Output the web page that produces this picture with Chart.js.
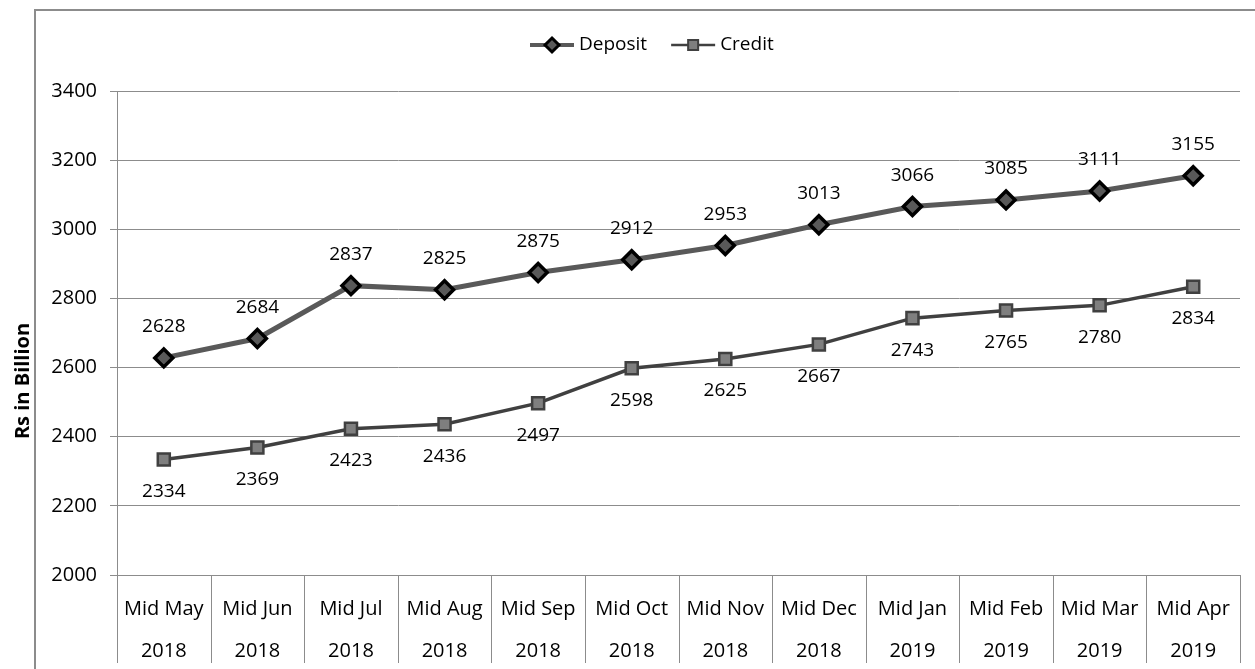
<!DOCTYPE html>
<html>
<head>
<meta charset="utf-8">
<script src="https://cdn.jsdelivr.net/npm/chart.js@4/dist/chart.umd.min.js"></script>
<style>
  html, body { margin: 0; padding: 0; background: #fff; }
  #wrap { width: 1255px; height: 669px; position: relative; }
</style>
</head>
<body>
<div id="wrap"><canvas id="chart" width="1255" height="669"></canvas></div>
<script>
// data
var months = ['Mid May', 'Mid Jun', 'Mid Jul', 'Mid Aug', 'Mid Sep', 'Mid Oct', 'Mid Nov', 'Mid Dec', 'Mid Jan', 'Mid Feb', 'Mid Mar', 'Mid Apr'];
var years = ['2018', '2018', '2018', '2018', '2018', '2018', '2018', '2018', '2019', '2019', '2019', '2019'];
var deposit = [2628, 2684, 2837, 2825, 2875, 2912, 2953, 3013, 3066, 3085, 3111, 3155];
var credit = [2334, 2369, 2423, 2436, 2497, 2598, 2625, 2667, 2743, 2765, 2780, 2834];
var yTicks = [2000, 2200, 2400, 2600, 2800, 3000, 3200, 3400];
var yTitle = 'Rs in Billion';

var FONT = '"Open Sans", "Liberation Sans", sans-serif';
var GRID = '#8c8c8c';

// two line category labels
var labels = months.map(function(m, i){ return [m, years[i]]; });

// frame around the chart (open on the right and bottom, like the source)
var framePlugin = {
  id: 'frame',
  beforeDraw: function(chart){
    var ctx = chart.ctx;
    ctx.save();
    ctx.strokeStyle = GRID;
    ctx.lineWidth = 2;
    ctx.beginPath();
    ctx.moveTo(35, 700);
    ctx.lineTo(35, 10);
    ctx.lineTo(1260, 10);
    ctx.stroke();
    ctx.restore();
  }
};

// vertical separators between the category cells under the plot
var cellPlugin = {
  id: 'cells',
  afterDraw: function(chart){
    var ctx = chart.ctx, x = chart.scales.x, area = chart.chartArea;
    var half = (x.getPixelForValue(1) - x.getPixelForValue(0)) / 2;
    ctx.save();
    ctx.strokeStyle = GRID;
    ctx.lineWidth = 1;
    for (var i = 0; i <= labels.length; i++){
      var px = Math.round(x.getPixelForValue(i) - half) + 0.5;
      if (i == labels.length) px = Math.round(x.getPixelForValue(i - 1) + half) + 0.5;
      ctx.beginPath();
      ctx.moveTo(px, area.bottom);
      ctx.lineTo(px, 663);
      ctx.stroke();
    }
    ctx.restore();
  }
};

// y axis title, sits outside the frame and a bit low like the source
var titlePlugin = {
  id: 'yTitle',
  afterDraw: function(chart){
    var ctx = chart.ctx;
    ctx.save();
    ctx.translate(23, 381);
    ctx.rotate(-Math.PI / 2);
    ctx.font = 'bold 20px ' + FONT;
    ctx.fillStyle = '#000';
    ctx.textAlign = 'center';
    ctx.textBaseline = 'middle';
    ctx.fillText(yTitle, 0, 0);
    ctx.restore();
  }
};

// value labels above / below the points
var valuePlugin = {
  id: 'values',
  afterDatasetsDraw: function(chart){
    var ctx = chart.ctx;
    ctx.save();
    ctx.font = '19px ' + FONT;
    ctx.fillStyle = '#000';
    ctx.textAlign = 'center';
    ctx.textBaseline = 'middle';
    chart.data.datasets.forEach(function(ds, di){
      var meta = chart.getDatasetMeta(di);
      meta.data.forEach(function(pt, i){
        ctx.fillText(String(ds.data[i]), pt.x, pt.y + ds.labelShift);
      });
    });
    ctx.restore();
  }
};

// excel style legend: line with marker through it
var legendPlugin = {
  id: 'xlLegend',
  afterDraw: function(chart){
    var ctx = chart.ctx;
    var y = 45, x = 530;
    ctx.save();
    ctx.font = '19px ' + FONT;
    ctx.textBaseline = 'middle';
    chart.data.datasets.forEach(function(ds){
      ctx.strokeStyle = ds.borderColor;
      ctx.lineWidth = ds.borderWidth - 1;
      ctx.beginPath();
      ctx.moveTo(x, y);
      ctx.lineTo(x + 44, y);
      ctx.stroke();
      var cx = x + 22;
      ctx.fillStyle = ds.pointBackgroundColor;
      ctx.strokeStyle = ds.pointBorderColor;
      ctx.lineWidth = ds.pointBorderWidth - 0.5;
      ctx.beginPath();
      if (ds.pointStyle == 'rectRot'){
        ctx.moveTo(cx, y - 7); ctx.lineTo(cx + 7, y); ctx.lineTo(cx, y + 7); ctx.lineTo(cx - 7, y);
      } else {
        ctx.rect(cx - 5, y - 5, 10, 10);
      }
      ctx.closePath();
      ctx.fill();
      ctx.stroke();
      ctx.fillStyle = '#000';
      ctx.fillText(ds.label, x + 49, y);
      x += 49 + ctx.measureText(ds.label).width + 24;
    });
    ctx.restore();
  }
};

var ctx = document.getElementById('chart').getContext('2d');
var chart = new Chart(ctx, {
  type: 'line',
  data: {
    labels: labels,
    datasets: [{
      label: 'Deposit',
      data: deposit,
      borderColor: '#595959',
      borderWidth: 5,
      pointStyle: 'rectRot',
      pointRadius: 9,
      pointBackgroundColor: '#595959',
      pointBorderColor: '#000',
      pointBorderWidth: 3.5,
      labelShift: -31,
      tension: 0
    }, {
      label: 'Credit',
      data: credit,
      borderColor: '#404040',
      borderWidth: 3.5,
      pointStyle: 'rect',
      pointRadius: 8.5,
      pointBackgroundColor: '#7f7f7f',
      pointBorderColor: '#404040',
      pointBorderWidth: 2.5,
      labelShift: 32,
      tension: 0
    }]
  },
  options: {
    responsive: false,
    animation: false,
    layout: { padding: { left: 5, right: 15, top: 91, bottom: 0 } },
    plugins: {
      legend: { display: false },
      tooltip: { enabled: false }
    },
    scales: {
      x: {
        offset: true,
        grid: { display: false, drawTicks: false },
        border: { display: true, color: GRID },
        ticks: {
          color: '#000',
          font: { family: FONT, size: 20, lineHeight: 2.1 },
          padding: 13,
          maxRotation: 0,
          autoSkip: false
        },
        afterFit: function(scale){ scale.height = 94; }
      },
      y: {
        min: yTicks[0],
        max: yTicks[yTicks.length - 1],
        afterBuildTicks: function(scale){
          scale.ticks = yTicks.map(function(v){ return { value: v }; });
        },
        grid: { color: GRID, lineWidth: 1, tickLength: 7, drawTicks: true },
        border: { display: true, color: GRID },
        ticks: {
          color: '#000',
          font: { family: FONT, size: 20 },
          padding: 13,
          callback: function(v){ return String(v); }
        },
        afterFit: function(scale){ scale.width = 112; }
      }
    }
  },
  plugins: [framePlugin, cellPlugin, titlePlugin, valuePlugin, legendPlugin]
});
</script>
</body>
</html>
